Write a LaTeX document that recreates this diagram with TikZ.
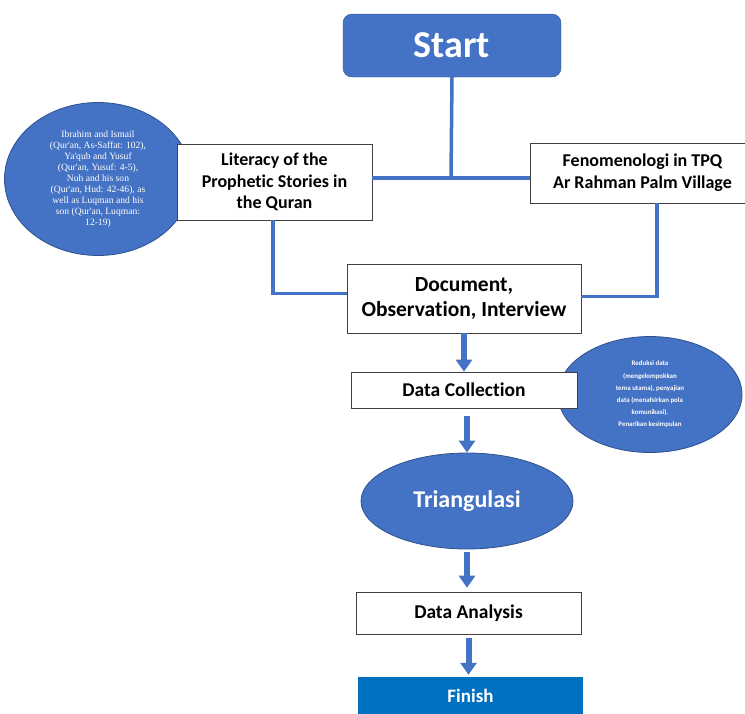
\documentclass[tikz,border=0pt]{standalone}
\usepackage{fontspec}
\setmainfont{Carlito}[Ligatures=NoCommon]
\newfontfamily\quranfont{Liberation Serif}
\usetikzlibrary{arrows.meta,positioning,shapes.geometric}
\definecolor{wordblue}{HTML}{4472C4}
\definecolor{darkblue}{HTML}{2F528F}
\definecolor{finishblue}{HTML}{0070C0}

\begin{document}
\begin{tikzpicture}[x=1pt,y=-1pt,>={Triangle[width=16pt,length=12pt]},node distance=100pt]
  \tikzstyle{box}=[rectangle,draw=black!75,line width=0.6pt,fill=white,text=black,align=center,inner sep=0pt]
  \tikzstyle{bubble}=[ellipse,draw=darkblue,line width=0.8pt,fill=wordblue,text=white,align=center,inner sep=0pt]
  \tikzstyle{link}=[draw=wordblue,line width=3.5pt]
  \tikzstyle{flow}=[->,draw=wordblue,fill=wordblue,line width=6pt]
  \useasboundingbox (0,0) rectangle (745,713);

  \node[rectangle,rounded corners=9pt,draw=darkblue,fill=wordblue,text=white,minimum width=218pt,minimum height=63pt,font=\fontsize{38}{40}\selectfont\bfseries] (start) at (452,45.5) {Start};
  \node[bubble,minimum width=187pt,minimum height=153pt,font=\quranfont\fontsize{9.6}{11}\selectfont] (stories) at (98,179) {Ibrahim and Ismail\\(Qur'an, As-Saffat: 102),\\Ya'qub and Yusuf\\(Qur'an, Yusuf: 4-5),\\Nuh and his son\\(Qur'an, Hud: 42-46), as\\well as Luqman and his\\son (Qur'an, Luqman:\\12-19)};
  \node[box,minimum width=195pt,minimum height=76pt,font=\fontsize{18}{21.7}\selectfont\bfseries] (lit) at (274.5,182) {Literacy of the\\Prophetic Stories in\\the Quran};
  \node[box,minimum width=225pt,minimum height=60pt,font=\fontsize{18}{21.7}\selectfont\bfseries] (feno) at (642.5,173) {Fenomenologi in TPQ\\Ar Rahman Palm Village};
  \node[box,minimum width=234pt,minimum height=69pt,font=\fontsize{21.5}{25.7}\selectfont\bfseries] (doc) at (464,298.5) {Document,\\Observation, Interview};
  \node[bubble,minimum width=184pt,minimum height=116pt,font=\fontsize{6.9}{12.2}\selectfont\bfseries] (reduce) at (650,394.5) {Reduksi data\\(mengelompokkan\\tema utama), penyajian\\data (menafsirkan pola\\komunikasi).\\Penarikan kesimpulan};
  \node[box,minimum width=226pt,minimum height=36pt,font=\fontsize{19.5}{22}\selectfont\bfseries] (collect) [below of=doc,node distance=91.5pt] {Data Collection};
  \node[bubble,minimum width=212pt,minimum height=96pt,font=\fontsize{24}{28}\selectfont\bfseries] (tri) [below of=collect,node distance=111pt,xshift=3pt] {Triangulasi};
  \node[box,minimum width=225pt,minimum height=42pt,font=\fontsize{19.5}{22}\selectfont\bfseries] (analysis) [below of=tri,node distance=112pt,xshift=1.5pt] {Data Analysis};
  \node[rectangle,fill=finishblue,text=white,minimum width=225pt,minimum height=38pt,font=\fontsize{19}{22}\selectfont\bfseries] (finish) [below of=analysis,node distance=83pt,xshift=2pt] {Finish};

  % lines from start and into the document box
  \coordinate (hub) at (451,178);
  \draw[link] (start.south) -- (hub);
  \draw[link] (lit.east |- hub) -- (feno.west |- hub);
  \draw[link] ([xshift=-1.5pt]lit.south) |- ([yshift=5pt]doc.west);
  \draw[link] ([xshift=14.5pt]feno.south) |- ([yshift=2pt]doc.east);

  % steps down
  \draw[flow] (doc) -- (collect);
  \draw[flow] ([yshift=-8pt]tri.north |- collect.south) -- (tri);
  \draw[flow,shorten >=4pt] ([yshift=-3pt]tri.south) -- (tri.south |- analysis.north);
  \draw[flow,shorten >=2pt] ([yshift=-4pt]analysis.south) -- (analysis.south |- finish.north);
\end{tikzpicture}
\end{document}
